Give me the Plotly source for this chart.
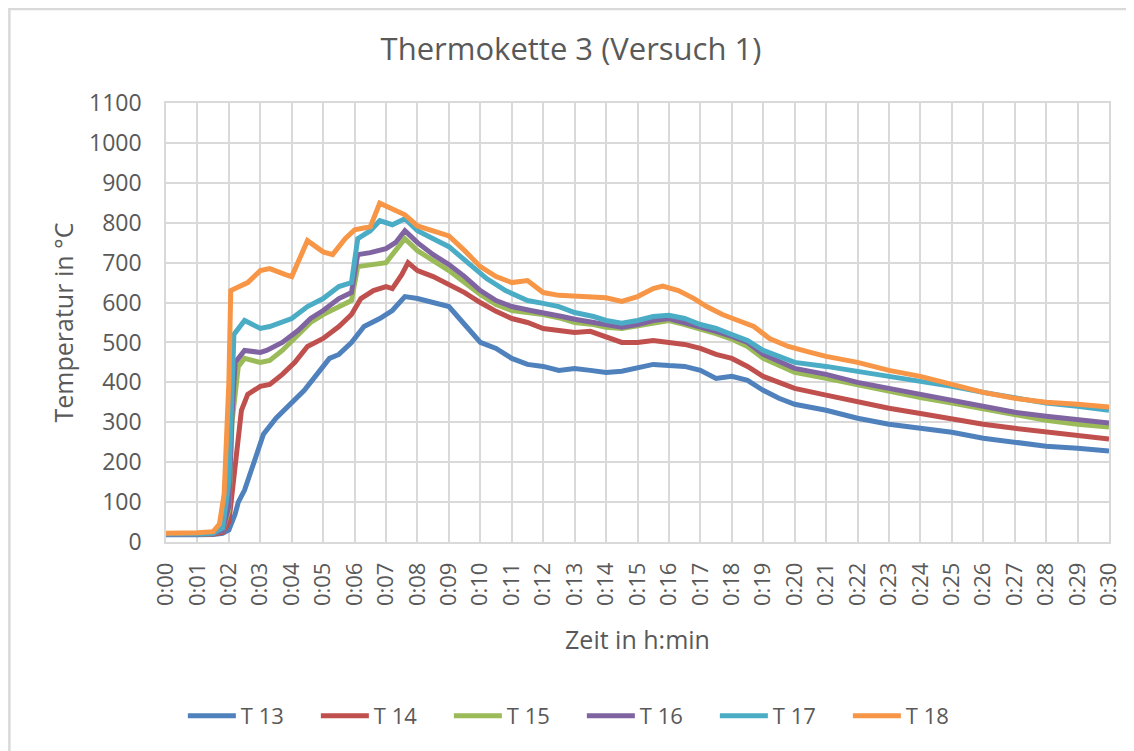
import plotly.graph_objects as go

# time in minutes, temperature in °C
t13 = [0, 0.5, 1, 1.5, 1.8, 2.0, 2.2, 2.3, 2.5, 2.8, 3.1, 3.5, 4.0, 4.4, 4.8, 5.2, 5.5, 5.9, 6.3, 6.8, 7.2, 7.6,
       8.0, 8.5, 9.0, 9.5, 10.0, 10.5, 11.0, 11.5, 12.0, 12.5, 13.0, 13.5, 14.0, 14.5, 15.0, 15.5, 16.0, 16.5,
       17.0, 17.5, 18.0, 18.5, 19.0, 19.5, 20.0, 21, 22, 23, 24, 25, 26, 27, 28, 29, 30]
T13 = [18, 17, 18, 19, 22, 30, 70, 100, 130, 200, 270, 310, 350, 380, 420, 460, 470, 500, 540, 560, 580, 615,
       610, 600, 590, 545, 500, 485, 460, 445, 440, 430, 435, 430, 425, 428, 435, 445, 442, 440,
       430, 410, 415, 405, 380, 360, 345, 330, 310, 295, 285, 275, 260, 250, 240, 235, 228]

t14 = [0, 0.5, 1, 1.5, 1.8, 2.0, 2.2, 2.4, 2.6, 3.0, 3.3, 3.7, 4.1, 4.5, 5.0, 5.5, 5.9, 6.2, 6.6, 7.0, 7.2, 7.5, 7.7,
       8.0, 8.5, 9.0, 9.5, 10.0, 10.5, 11.0, 11.5, 12.0, 12.5, 13.0, 13.5, 14.0, 14.5, 15.0, 15.5, 16.0, 16.5,
       17.0, 17.5, 18.0, 18.5, 19.0, 19.5, 20.0, 21, 22, 23, 24, 25, 26, 27, 28, 29, 30]
T14 = [19, 18, 19, 20, 24, 50, 200, 330, 370, 390, 395, 420, 450, 490, 510, 540, 570, 610, 630, 640, 635, 670, 700,
       680, 665, 645, 625, 600, 578, 560, 550, 535, 530, 525, 528, 515, 500, 500, 505, 500, 495,
       485, 470, 460, 440, 415, 400, 385, 368, 350, 335, 322, 308, 295, 285, 275, 265, 258]

t15 = [0, 0.5, 1, 1.5, 1.8, 2.0, 2.1, 2.3, 2.5, 3.0, 3.3, 3.7, 4.2, 4.6, 5.0, 5.5, 5.9, 6.1, 6.5, 7.0, 7.3, 7.6,
       8.0, 8.5, 9.0, 9.5, 10.0, 10.5, 11.0, 11.5, 12.0, 12.6, 13.0, 13.6, 14.0, 14.5, 15.0, 15.5, 16.0, 16.5,
       17.0, 17.5, 18.0, 18.5, 19.0, 19.6, 20.0, 21, 22, 23, 24, 25, 26, 27, 28, 29, 30]
T15 = [19, 18, 19, 21, 28, 80, 300, 440, 460, 450, 455, 480, 520, 550, 570, 590, 605, 690, 695, 700, 730, 760,
       730, 705, 680, 650, 620, 595, 580, 575, 570, 560, 550, 545, 538, 535, 542, 550, 555, 545,
       535, 522, 508, 490, 460, 440, 425, 410, 393, 378, 362, 348, 333, 318, 305, 295, 288]

t16 = [0, 0.5, 1, 1.5, 1.8, 2.0, 2.1, 2.2, 2.5, 3.0, 3.2, 3.7, 4.2, 4.6, 5.0, 5.5, 5.9, 6.1, 6.5, 7.0, 7.3, 7.6,
       8.0, 8.5, 9.0, 9.5, 10.0, 10.5, 11.0, 11.6, 12.0, 12.6, 13.0, 13.6, 14.0, 14.5, 15.0, 15.5, 16.0, 16.5,
       17.0, 17.5, 18.0, 18.5, 19.0, 19.6, 20.0, 21, 22, 23, 24, 25, 26, 27, 28, 29, 30]
T16 = [19, 18, 19, 21, 28, 90, 320, 450, 480, 475, 480, 500, 530, 560, 580, 610, 625, 720, 725, 735, 750, 780,
       750, 720, 695, 665, 630, 605, 590, 580, 575, 565, 558, 550, 543, 538, 545, 555, 560, 550,
       540, 528, 515, 500, 470, 450, 435, 420, 400, 385, 370, 355, 340, 325, 315, 305, 298]

t17 = [0, 0.5, 1, 1.5, 1.8, 2.0, 2.16, 2.5, 3.0, 3.3, 4.0, 4.5, 5.0, 5.5, 5.9, 6.1, 6.5, 6.8, 7.2, 7.6,
       8.0, 8.5, 9.0, 9.6, 10.2, 10.8, 11.5, 12.0, 12.5, 13.0, 13.6, 14.0, 14.5, 15.0, 15.5, 16.0, 16.5,
       17.0, 17.5, 18.0, 18.5, 19.0, 19.6, 20.0, 21, 22, 23, 24, 25, 26, 27, 28, 29, 30]
T17 = [20, 19, 20, 22, 35, 150, 520, 555, 535, 540, 560, 590, 610, 640, 650, 760, 780, 805, 795, 810,
       780, 760, 740, 700, 660, 630, 605, 598, 590, 575, 565, 555, 548, 555, 565, 568, 560,
       545, 535, 520, 505, 480, 460, 450, 440, 428, 415, 403, 390, 375, 360, 348, 340, 330]

t18 = [0, 0.5, 1, 1.5, 1.7, 1.85, 2.0, 2.06, 2.3, 2.6, 3.0, 3.3, 3.8, 4.0, 4.5, 5.0, 5.3, 5.7, 6.0, 6.5, 6.8, 7.3, 7.6,
       8.0, 8.5, 9.0, 9.5, 10.0, 10.5, 11.0, 11.5, 12.0, 12.5, 13.0, 13.5, 14.0, 14.5, 15.0, 15.5, 15.8, 16.3,
       16.8, 17.2, 17.7, 18.2, 18.7, 19.2, 19.8, 20.5, 21, 22, 23, 24, 25, 26, 27, 28, 29, 30]
T18 = [22, 21, 23, 26, 45, 120, 400, 630, 640, 650, 680, 685, 670, 665, 755, 727, 720, 760, 782, 790, 849, 830, 820,
       792, 780, 767, 730, 690, 665, 650, 655, 625, 618, 615, 615, 612, 603, 615, 635, 641, 630,
       610, 590, 570, 555, 540, 510, 490, 475, 465, 450, 430, 415, 395, 375, 360, 350, 345, 338]

names = ["T 13", "T 14", "T 15", "T 16", "T 17", "T 18"]
colors = ["#4F81BD", "#C0504D", "#9BBB59", "#8064A2", "#4BACC6", "#F79646"]
series = [(t13, T13), (t14, T14), (t15, T15), (t16, T16), (t17, T17), (t18, T18)]

tick_minutes = list(range(0, 31))
tick_labels = ["0:%02d" % m for m in tick_minutes]
y_ticks = list(range(0, 1101, 100))

font = "Open Sans, Liberation Sans, sans-serif"
grey = "#595959"
grid = "#D9D9D9"

fig = go.Figure()
for (x, y), name, col in zip(series, names, colors):
    fig.add_trace(go.Scatter(x=x, y=y, name=name, mode="lines",
                             line=dict(color=col, width=5)))

# the page body adds an 8px offset, so the figure is 8px smaller than the window
fig.update_layout(
    width=1126, height=743,
    paper_bgcolor="white", plot_bgcolor="white",
    margin=dict(l=158, r=23, t=95, b=209),
    font=dict(family=font, color=grey, size=22),
    title=dict(text="Thermokette 3 (Versuch 1)", x=0.5, xanchor="center",
               y=0.945, yanchor="middle", font=dict(size=31, color=grey)),
    legend=dict(orientation="h", x=0.441, xanchor="center", y=-0.396, yanchor="middle",
                font=dict(size=22, color=grey), itemwidth=48, entrywidth=70,
                traceorder="normal"),
    showlegend=True,
)
fig.update_xaxes(
    range=[0, 30], tickmode="array", tickvals=tick_minutes, ticktext=tick_labels,
    tickangle=-90, showgrid=True, gridcolor=grid, gridwidth=1.5,
    showline=True, linecolor=grid, linewidth=1.5, mirror=True,
    zeroline=False, ticks="", ticklabelstandoff=10, tickfont=dict(size=22, color=grey),
    title=dict(text="Zeit in h:min", font=dict(size=25, color=grey), standoff=26),
)
fig.update_yaxes(
    range=[0, 1100], tickmode="array", tickvals=y_ticks,
    showgrid=True, gridcolor=grid, gridwidth=1.5,
    showline=True, linecolor=grid, linewidth=1.5, mirror=True,
    zeroline=False, ticks="", ticklabelstandoff=18, tickfont=dict(size=23, color=grey),
    title=dict(text="Temperatur in °C", font=dict(size=25, color=grey), standoff=8),
)

# light outer chart border (only its top and left edges are inside the picture)
fig.add_shape(type="rect", xref="paper", yref="paper", x0=-0.1661, x1=1.05, y0=-0.6, y1=1.214,
              line=dict(color=grid, width=2.5))

fig.write_html("out.html")
